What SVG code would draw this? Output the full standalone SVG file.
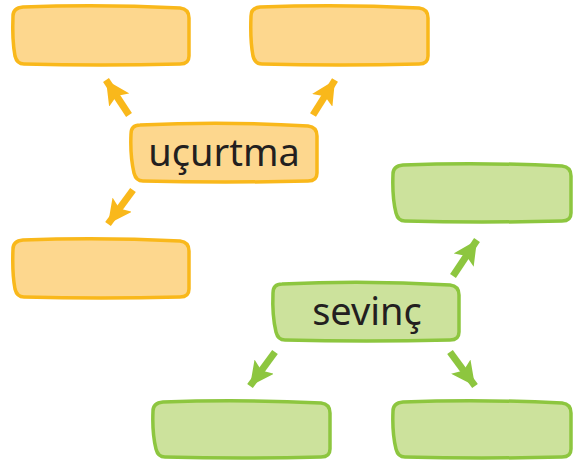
<svg xmlns="http://www.w3.org/2000/svg" width="579" height="463" viewBox="0 0 579 463">
<style>
.o{fill:#FDD78E;stroke:#F9B81B;stroke-width:3.5;stroke-linejoin:round}
.g{fill:#CCE29C;stroke:#8DC63F;stroke-width:3.5;stroke-linejoin:round}
.ao{stroke:#F9B81B;stroke-width:7;fill:none}
.ag{stroke:#8DC63F;stroke-width:7;fill:none}
.t{font-family:"Noto Sans","Open Sans",sans-serif;font-size:38px;fill:#231F20;text-anchor:middle}
</style>
<defs>
<marker id="ho" markerUnits="userSpaceOnUse" markerWidth="24" markerHeight="24" viewBox="0 0 20 20" refX="20" refY="10" orient="auto">
<path d="M0,0 L20,10 L0,20 L4,10 Z" fill="#F9B81B"/>
</marker>
<marker id="hg" markerUnits="userSpaceOnUse" markerWidth="24" markerHeight="24" viewBox="0 0 20 20" refX="20" refY="10" orient="auto">
<path d="M0,0 L20,10 L0,20 L4,10 Z" fill="#8DC63F"/>
</marker>
</defs>
<g id="connectors">
<line class="ao" x1="129" y1="115" x2="106" y2="80" marker-end="url(#ho)"/>
<line class="ao" x1="313" y1="115" x2="335" y2="80" marker-end="url(#ho)"/>
<line class="ao" x1="133" y1="190" x2="108" y2="224" marker-end="url(#ho)"/>
<line class="ag" x1="453" y1="276" x2="477" y2="240" marker-end="url(#hg)"/>
<line class="ag" x1="275" y1="352" x2="250" y2="386" marker-end="url(#hg)"/>
<line class="ag" x1="450" y1="352" x2="475" y2="386" marker-end="url(#hg)"/>
</g>
<g id="box-o1"><path class="o" d="M23,7 Q100,4 180,8 Q189,9 189,18 L189,56 Q189,64 180,64 Q100,66 24,64 Q17,64 15,56 Q12,40 13,16 Q13,8 23,7 Z"/></g>
<g id="box-o2"><path class="o" d="M260,7 Q340,4 419,8 Q428,9 428,18 L428,56 Q428,64 419,64 Q340,66 262,64 Q255,64 253,56 Q250,40 251,16 Q251,8 260,7 Z"/></g>
<g id="node-ucurtma"><path class="o" d="M140,125 Q225,121 308,126 Q317,127 317,136 L317,173 Q317,181 308,181 Q225,183 143,181 Q136,181 134,173 Q130,156 131,134 Q131,125 140,125 Z"/>
<text class="t" x="224" y="166">uçurtma</text></g>
<g id="box-o3"><path class="o" d="M23,240 Q100,237 180,241 Q189,242 189,251 L189,289 Q189,297 180,297 Q100,299 24,297 Q17,297 15,289 Q12,273 13,249 Q13,241 23,240 Z"/></g>
<g id="box-g1"><path class="g" d="M403,165 Q480,162 562,166 Q571,167 571,176 L571,213 Q571,221 562,221 Q480,223 405,221 Q398,221 396,213 Q392,197 393,174 Q393,166 403,165 Z"/></g>
<g id="node-sevinc"><path class="g" d="M282,284 Q365,280 450,285 Q459,286 459,295 L459,332 Q459,340 450,340 Q365,342 285,340 Q278,340 276,332 Q272,315 273,293 Q273,284 282,284 Z"/>
<text class="t" x="367" y="325">sevinç</text></g>
<g id="box-g2"><path class="g" d="M163,402 Q240,399 321,403 Q330,404 330,413 L330,449 Q330,457 321,457 Q240,459 165,457 Q158,457 156,449 Q152,433 153,411 Q153,403 163,402 Z"/></g>
<g id="box-g3"><path class="g" d="M403,402 Q480,399 562,403 Q571,404 571,413 L571,449 Q571,457 562,457 Q480,459 405,457 Q398,457 396,449 Q392,433 393,411 Q393,403 403,402 Z"/></g>
</svg>
